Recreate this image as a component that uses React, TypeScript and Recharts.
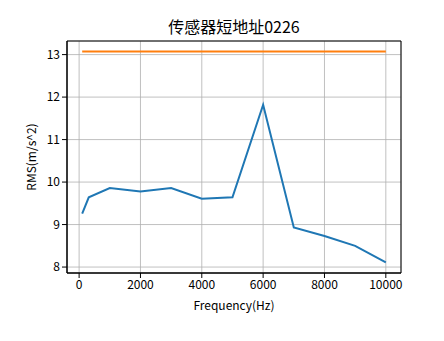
import React from "react";
import { LineChart, Line, XAxis, YAxis, CartesianGrid, ReferenceArea } from "recharts";

const freqs = [100, 315, 1000, 2000, 3000, 4000, 5000, 6000, 7000, 8000, 9000, 10000];
const rms = [9.26, 9.64, 9.86, 9.78, 9.86, 9.61, 9.64, 11.82, 8.93, 8.73, 8.5, 8.11];
const limitFreqs = [100, 10000];
const limitValues = [13.07, 13.07];
const xTicks = [0, 2000, 4000, 6000, 8000, 10000];
const yTicks = [8, 9, 10, 11, 12, 13];

const rmsData = freqs.map((f, i) => ({ f, v: rms[i] }));
const limitData = limitFreqs.map((f, i) => ({ f, v: limitValues[i] }));

const FONT = '"Noto Sans CJK SC", "DejaVu Sans", sans-serif';
const X_DOMAIN: [number, number] = [-395, 10495];
const Y_DOMAIN: [number, number] = [7.86, 13.32];

export default function App() {
  const tick = { fontFamily: FONT, fontSize: 12, fill: "#000" };
  return (
    <div style={{ position: "absolute", left: 0, top: 0, width: 444, height: 341, background: "#fff", fontFamily: FONT }}>
      <LineChart width={444} height={341} margin={{ top: 41, right: 43, left: 0, bottom: 0 }}>
        <CartesianGrid stroke="#b0b0b0" strokeWidth={0.8} />
        <XAxis
          type="number"
          dataKey="f"
          domain={X_DOMAIN}
          ticks={xTicks}
          allowDataOverflow
          height={68}
          tickSize={5}
          tick={tick}
          stroke="#000"
          tickLine={{ stroke: "#000" }}
        />
        <YAxis
          type="number"
          domain={Y_DOMAIN}
          ticks={yTicks}
          allowDataOverflow
          width={67}
          tickSize={5}
          tick={tick}
          stroke="#000"
          tickLine={{ stroke: "#000" }}
        />
        <ReferenceArea x1={X_DOMAIN[0]} x2={X_DOMAIN[1]} y1={Y_DOMAIN[0]} y2={Y_DOMAIN[1]} fill="none" stroke="#000" strokeWidth={1} />
        <Line data={rmsData} dataKey="v" stroke="#1f77b4" strokeWidth={2} dot={false} isAnimationActive={false} />
        <Line data={limitData} dataKey="v" stroke="#ff7f0e" strokeWidth={2} dot={false} isAnimationActive={false} />
      </LineChart>
      <div style={{ position: "absolute", left: 67, width: 334, top: 16, textAlign: "center", fontSize: 16, lineHeight: "20px" }}>
        传感器短地址0226
      </div>
      <div style={{ position: "absolute", left: 67, width: 334, top: 297, textAlign: "center", fontSize: 12, lineHeight: "16px" }}>
        Frequency(Hz)
      </div>
      <div
        style={{
          position: "absolute",
          left: 31 - 60,
          top: 157 - 8,
          width: 120,
          textAlign: "center",
          fontSize: 12,
          lineHeight: "16px",
          transform: "rotate(-90deg)",
        }}
      >
        RMS(m/s^2)
      </div>
    </div>
  );
}
